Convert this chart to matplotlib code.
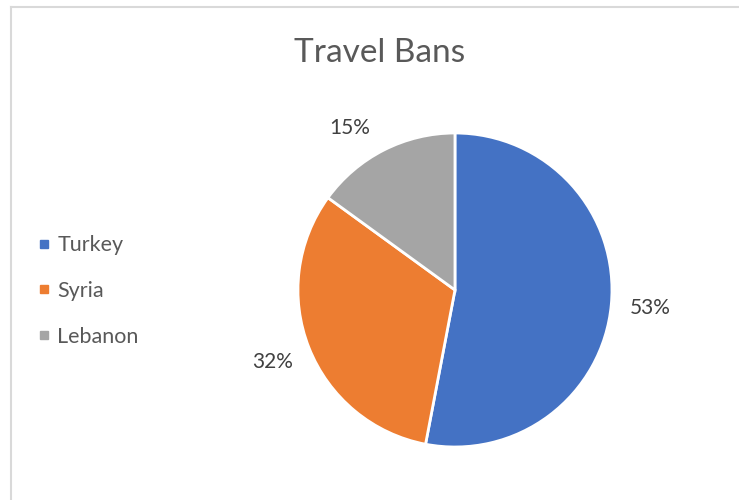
import matplotlib

matplotlib.use("Agg")
import matplotlib.pyplot as plt
import numpy as np
from matplotlib.lines import Line2D

plt.rcParams["font.family"] = ["Lato", "DejaVu Sans"]

countries = ["Turkey", "Syria", "Lebanon"]
shares = [53, 32, 15]
colors = ["#4472C4", "#ED7D31", "#A5A5A5"]

fig = plt.figure(figsize=(7.39, 5.0), dpi=100)

# chart frame: top and left edges only
fig.add_artist(Line2D([0.015, 1.0], [0.987, 0.987], color="#D9D9D9", linewidth=1.5))
fig.add_artist(Line2D([0.015, 0.015], [0.0, 0.987], color="#D9D9D9", linewidth=1.5))

ax = fig.add_axes([0.4032, 0.106, 0.4249, 0.628])
wedges, texts, autotexts = ax.pie(
    shares,
    colors=colors,
    startangle=90,
    counterclock=False,
    autopct=lambda p: f"{round(p)}%",
    pctdistance=1.25,
    wedgeprops={"edgecolor": "white", "linewidth": 2},
    textprops={"fontsize": 15, "color": "#404040"},
)
# nudge the small slice's label off the top, best-fit style
ang = np.deg2rad(123)
autotexts[2].set_position((1.23 * np.cos(ang), 1.23 * np.sin(ang)))
ax.set_xlim(-1, 1)
ax.set_ylim(-1, 1)

fig.text(0.514, 0.895, "Travel Bans", ha="center", va="center", fontsize=24, color="#595959")

handles = [
    Line2D([], [], marker="s", linestyle="none", markersize=6, color=c) for c in colors
]
fig.legend(
    handles,
    countries,
    loc="center left",
    bbox_to_anchor=(0.025, 0.418),
    frameon=False,
    fontsize=15.5,
    labelcolor="#595959",
    handletextpad=0.3,
    handlelength=0.6,
    labelspacing=1.2,
)

fig.savefig("out.png", dpi=100)
